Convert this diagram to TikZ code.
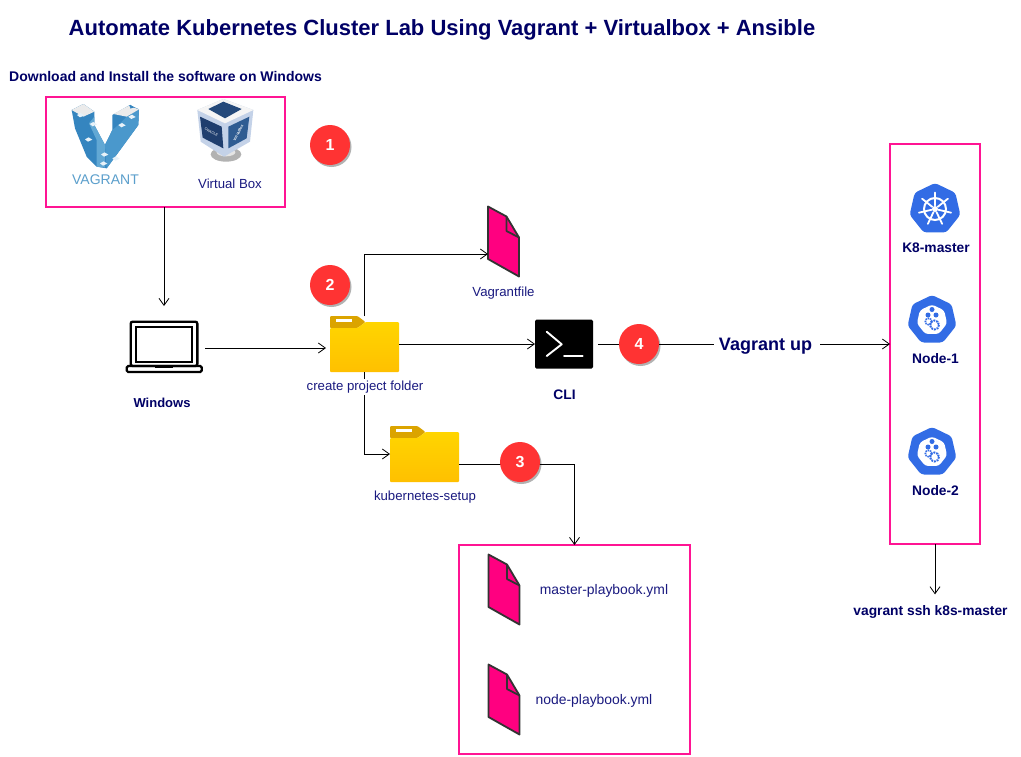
\documentclass[tikz,border=0pt]{standalone}
\usepackage{fontspec}
\setmainfont{Liberation Sans}
\usetikzlibrary{arrows.meta,shadows,shapes.geometric}
\definecolor{titleblue}{HTML}{000066}
\definecolor{labelblue}{HTML}{1A1A80}
\definecolor{framepink}{HTML}{FF1493}
\definecolor{docpink}{HTML}{FF0080}
\definecolor{badgered}{HTML}{FF3333}
\definecolor{kubeblue}{HTML}{326CE5}
\definecolor{vagblue}{HTML}{4A98CC}
\definecolor{vaglight}{HTML}{62A8D4}
\definecolor{vagdark}{HTML}{3585BF}
\definecolor{vagtext}{HTML}{5B9FCC}
\definecolor{foldertab}{HTML}{DBA400}
\definecolor{foldertop}{HTML}{FFD500}
\definecolor{folderbot}{HTML}{FFC000}
\definecolor{cubebody}{HTML}{C4D2E8}
\definecolor{cubetop}{HTML}{24497A}
\definecolor{cubeleft}{HTML}{1F3E6E}
\definecolor{cuberight}{HTML}{2F5C92}
\tikzset{
  boldlabel/.style={text=titleblue,font=\fontsize{13.8}{15}\selectfont\bfseries,inner sep=1pt},
  plainlabel/.style={text=labelblue,font=\fontsize{13.2}{15}\selectfont,inner sep=1pt},
  frame/.style={draw=framepink,line width=2pt,minimum width=#1,inner sep=0pt,outer sep=0pt},
  iconbox/.style 2 args={inner sep=0pt,outer sep=0pt,minimum width=#1,minimum height=#2},
  badge/.style={circle,fill=badgered,text=white,minimum size=40pt,inner sep=0pt,
    font=\fontsize{16}{18}\selectfont\bfseries,
    drop shadow={shadow xshift=1.5pt,shadow yshift=-2pt,fill=black,opacity=0.3}},
  flow/.style={-{Straight Barb[length=7pt,width=10pt]},line width=0.8pt},
  heptagon/.style={regular polygon,regular polygon sides=7,minimum size=#1,inner sep=0pt,rounded corners=3pt},
  docfile/.pic={
    \draw[fill=docpink,draw=black!80,line width=1.8pt,line join=round]
      (-15.5,-35)--(3,-25)--(15.5,-4)--(15.5,35)--(-15.5,17.5)--cycle;
    \draw[draw=black!80,line width=1.8pt,line join=round] (3,-25)--(3,-10.5)--(15.5,-4);
  },
  folderpic/.pic={
    \fill[rounded corners=1pt,fill=foldertab] (-34.5,-28)--(-7,-28)--(1,-22)--(-7,-16)--(-34.5,-16)--cycle;
    \shade[top color=foldertop,bottom color=folderbot,rounded corners=1pt]
      (-34.5,-16)--(-7,-16)--(1,-22)--(34.5,-22)--(34.5,28)--(-34.5,28)--cycle;
    \fill[white] (-28.5,-25)rectangle(-12.5,-22);
  },
  wheelpic/.pic={
    \draw[white,line width=2pt] (0,0) circle (11);
    \fill[white] (0,0) circle (3);
    \foreach \ang in {0,...,6}
      \draw[white,line width=1.8pt,line cap=round] ({\ang*360/7-90}:3.5)--({\ang*360/7-90}:16.5);
  },
  nodepic/.pic={
    \node[heptagon=31pt,fill=white] at (0,0) {};
    \foreach \dotx/\doty in {0/-10.5,-4/-5,4/-5}
      \fill[kubeblue] (\dotx,\doty) circle (2.5);
    \draw[kubeblue,line width=1.6pt,dash pattern=on 1.5pt off 0.8pt] (-3.5,1.5) circle (3.2);
    \draw[kubeblue,line width=2pt,dash pattern=on 1.8pt off 1pt] (2.5,5) circle (4.5);
  },
}
\begin{document}
\begin{tikzpicture}[x=1pt,y=-1pt,>=Straight Barb]
  \path[use as bounding box,fill=white] (0,0) rectangle (1021,756);

  % texts
  \node[text=titleblue,font=\fontsize{22}{26}\selectfont\bfseries,inner sep=0pt] (title) at (442,30) {Automate Kubernetes Cluster Lab Using Vagrant + Virtualbox + Ansible};
  \node[boldlabel,font=\fontsize{14}{15}\selectfont\bfseries] (download) at (165.5,76) {Download and Install the software on Windows};

  % frames
  \node[frame=239pt,minimum height=110pt] (softbox) at (165.5,152) {};
  \node[frame=90pt,minimum height=400pt] (clusterbox) at (935,344) {};
  \node[frame=231pt,minimum height=209pt] (playbox) at (574.5,649.5) {};

  % vagrant logo
  \begin{scope}[shift={(65,100)},scale=1/3]
    \fill[vagdark] (20,30)--(55,12)--(88,35)--(88,75)--(120,135)--(142,90)--(142,45)--(195,15)--(222,28)--(220,75)--(125,205)--(95,200)--(65,170)--(30,85)--cycle;
    \fill[vaglight] (88,50)--(88,75)--(120,135)--(120,203)--(95,200)--(95,120)--(72,70)--cycle;
    \fill[vagblue] (185,50)--(222,28)--(220,75)--(125,205)--(120,135)--(142,90)--(160,75)--cycle;
    \fill[black!8] (20,30)--(55,12)--(88,35)--(55,50)--cycle;
    \fill[black!8] (145,42)--(190,18)--(222,28)--(185,50)--cycle;
    \foreach \tx/\ty in {36/45,74/72,60/118,108/163,160/75,142/175,105/190,190/50}
      \fill[white!85!vaglight] (\tx,\ty)--(\tx+11,\ty-6)--(\tx+22,\ty+1)--(\tx+9,\ty+7)--cycle;
    \fill[vagdark] (195,14)--(207,22)--(196,26)--cycle;
  \end{scope}
  \node[text=vagtext,font=\fontsize{14}{16}\selectfont,inner sep=0pt] (vagranttext) at (105.5,180) {VAGRANT};

  % virtualbox logo
  \begin{scope}[shift={(190,95)},scale=1/3]
    \fill[black!30] (108,178) ellipse (46 and 22);
    \fill[black!10] (108,172) ellipse (28 and 12);
    \fill[cubebody] (22,45)--(100,12)--(190,45)--(180,140)--(102,185)--(32,140)--cycle;
    \fill[black!4] (22,45)--(100,12)--(190,45)--(105,85)--cycle;
    \fill[cubetop] (55,42)--(100,20)--(155,42)--(105,70)--cycle;
    \fill[cubeleft] (30,65)--(95,95)--(100,160)--(38,128)--cycle;
    \fill[cuberight] (115,95)--(178,65)--(170,130)--(115,160)--cycle;
    \node[text=white,font=\fontsize{3.6}{4}\selectfont,rotate=-30,inner sep=0pt] (oracletext) at (64,112) {ORACLE};
    \node[text=white,font=\fontsize{3.6}{4}\selectfont\bfseries,rotate=62,inner sep=0pt] (vboxlogotext) at (145,113) {VirtualBox};
  \end{scope}
  \node[plainlabel] (vboxtext) at (230,184) {Virtual Box};

  % laptop
  \node[iconbox={76pt}{53pt}] (laptop) at (164,346.5) {};
  \draw[black,line width=2.4pt,rounded corners=2pt] (130.7,321.7)rectangle(197.3,366);
  \draw[black,line width=2.2pt] (135.7,326.7)rectangle(192.3,361.7);
  \draw[black,line width=2.2pt,rounded corners=1.5pt] (126.7,366)rectangle(201.7,372);
  \fill[black] (155,366)rectangle(173.3,368.3);
  \node[boldlabel,font=\fontsize{13}{15}\selectfont\bfseries] (laptoptext) at (162,403) {Windows};

  % folders and files
  \node[iconbox={69pt}{56pt}] (projfolder) at (364.5,344) {};
  \pic at (projfolder) {folderpic};
  \node[iconbox={69pt}{56pt}] (setupfolder) at (424.5,454) {};
  \pic at (setupfolder) {folderpic};
  \node[iconbox={31pt}{70pt}] (vagfile) at (503.5,241.5) {};
  \pic at (vagfile) {docfile};
  \node[iconbox={31pt}{70pt}] (masterfile) at (504,589.5) {};
  \pic at (masterfile) {docfile};
  \node[iconbox={31pt}{70pt}] (nodefile) at (504,699.5) {};
  \pic at (nodefile) {docfile};
  \node[plainlabel] (vagfiletext) at (503.5,293) {Vagrantfile};
  \node[plainlabel,font=\fontsize{13.9}{15}\selectfont] (mastertext) at (604,591) {master-playbook.yml};
  \node[plainlabel,font=\fontsize{13.9}{15}\selectfont] (nodetext) at (594,701) {node-playbook.yml};

  % terminal
  \node[iconbox={58pt}{49pt},fill=black,rounded corners=1.5pt] (cli) at (564,344) {};
  \draw[white,line width=1.9pt,line cap=round,line join=round] (546.7,331.7)--(561.7,344.3)--(546.7,356);
  \draw[white,line width=1.9pt,line cap=round] (564,355.7)--(582.7,355.7);
  \node[boldlabel] (clitext) at (564.5,395) {CLI};
  \node[text=titleblue,font=\fontsize{18}{20}\selectfont\bfseries,inner sep=0pt] (vagrantup) at (765.5,346) {Vagrant up};

  % cluster
  \node[heptagon=52pt,fill=kubeblue] (master) at (935,209) {};
  \pic at (master) {wheelpic};
  \node[heptagon=50pt,fill=kubeblue] (workerA) at (932,320) {};
  \pic at (workerA) {nodepic};
  \node[heptagon=50pt,fill=kubeblue] (workerB) at (932,452) {};
  \pic at (workerB) {nodepic};
  \node[boldlabel] (mastertag) at (936,248) {K8-master};
  \node[boldlabel] (workerAtag) at (935.5,359) {Node-1};
  \node[boldlabel] (workerBtag) at (935.5,491) {Node-2};
  \node[boldlabel] (sshtext) at (930.5,612) {vagrant ssh k8s-master};

  % connectors
  \draw[flow] (softbox.south -| laptop.north) -- ([yshift=14pt]laptop.north);
  \draw[flow] ([xshift=3pt,yshift=-1.5pt]laptop.east) -- ([xshift=-4pt,yshift=-1.5pt]laptop.east -| projfolder.west);
  \draw[flow] (projfolder.north) |- ([yshift=-12.5pt]vagfile.west);
  \draw[flow] (projfolder.south) |- (setupfolder.west);
  \draw[flow] (projfolder.east) -- (cli.west);
  \draw[line width=0.8pt] ([xshift=5pt]cli.east) -- ([xshift=-5pt]vagrantup.west |- cli.east);
  \draw[flow] ([xshift=8pt]vagrantup.east |- clusterbox.west) -- (clusterbox.west);
  \draw[flow] ([yshift=-10pt]setupfolder.east) -| (playbox.north);
  \draw[flow] (clusterbox.south) -- ([yshift=10pt]sshtext.north -| clusterbox.south);

  \node[plainlabel,fill=white,inner sep=1.5pt] (foldertext) at (365,387) {create project folder};
  \node[plainlabel,fill=white,inner sep=1.5pt] (setuptext) at (425,497) {kubernetes-setup};

  % badges
  \node[badge] (stepA) at (330,145) {1};
  \node[badge] (stepB) at (330,285) {2};
  \node[badge] (stepC) at (520,462) {3};
  \node[badge] (stepD) at (639,344) {4};
\end{tikzpicture}
\end{document}
